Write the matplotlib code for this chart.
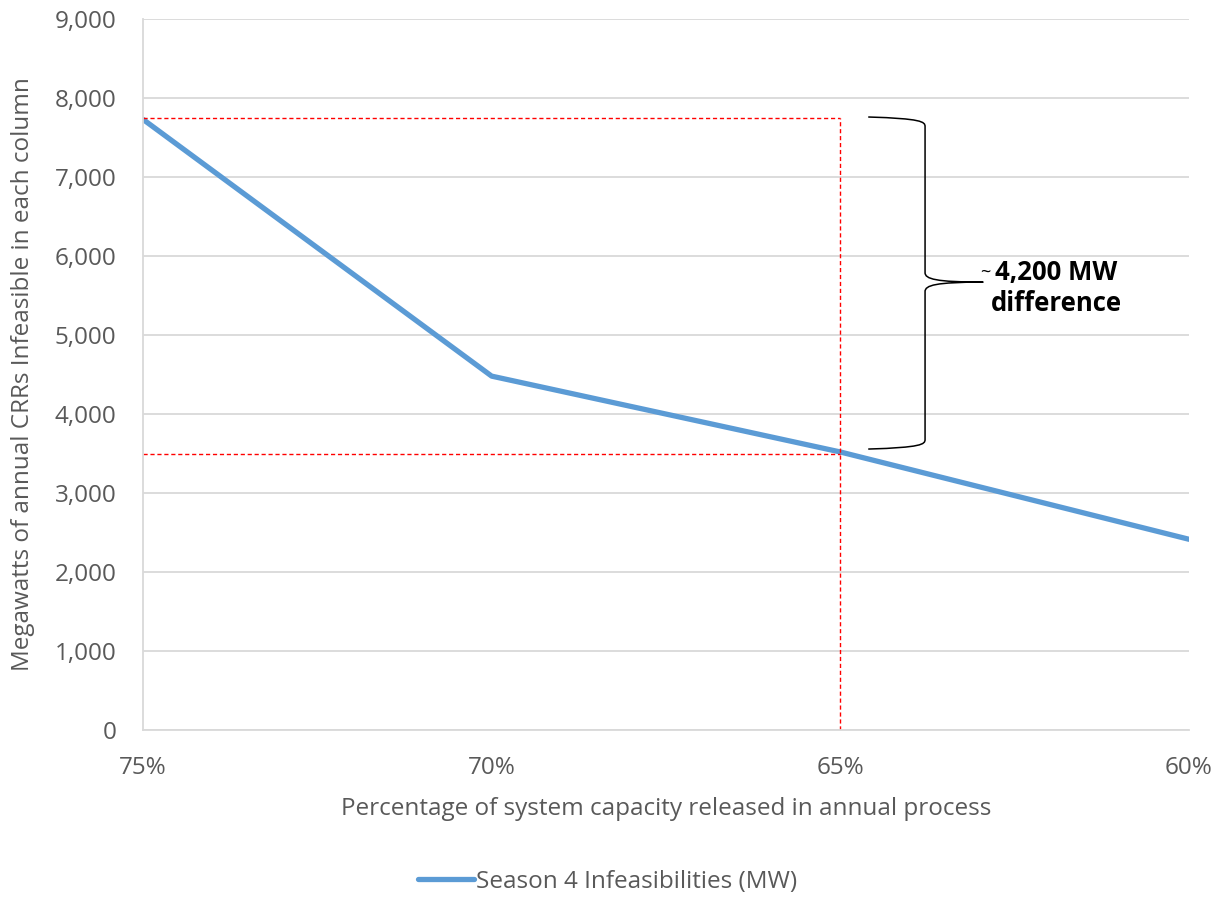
import matplotlib.pyplot as plt
from matplotlib.path import Path
from matplotlib.patches import PathPatch

plt.rcParams['font.family'] = ['Open Sans', 'DejaVu Sans']

# released capacity vs MW of annual CRRs infeasible
pct_labels = ["75%", "70%", "65%", "60%"]
infeasible_mw = [7730, 4480, 3520, 2415]

ref_high = 7750
ref_low = 3500
y_ticks = list(range(0, 10000, 1000))

grey = "#595959"
grid = "#D9D9D9"
blue = "#5B9BD5"


def plot():
    fig = plt.figure(figsize=(12.15, 8.98), dpi=100)
    ax = fig.add_axes([0.1177, 0.187, 0.8609, 0.7918])
    x = list(range(len(pct_labels)))

    ax.set_xlim(0, len(pct_labels) - 1)
    ax.set_ylim(0, 9000)
    ax.set_yticks(y_ticks)
    ax.set_yticklabels([f"{v:,}" for v in y_ticks])
    ax.set_xticks(x)
    ax.set_xticklabels(pct_labels)
    ax.tick_params(length=0, labelsize=17.5, colors=grey)
    ax.tick_params(axis='y', pad=19)
    ax.tick_params(axis='x', pad=19)
    ax.grid(axis='y', color=grid, linewidth=1.3)
    ax.set_axisbelow(True)
    for s in ['top', 'right']:
        ax.spines[s].set_visible(False)
    for s in ['left', 'bottom']:
        ax.spines[s].set_color(grid)
        ax.spines[s].set_linewidth(1.3)

    ax.set_xlabel("Percentage of system capacity released in annual process",
                  fontsize=17.5, color=grey, labelpad=12)
    ax.set_ylabel("Megawatts of annual CRRs Infeasible in each column",
                  fontsize=17.5, color=grey, labelpad=14)

    line, = ax.plot(x, infeasible_mw, color=blue, linewidth=3.8,
                    solid_capstyle='round', label="Season 4 Infeasibilities (MW)")

    # reference lines at 65%
    dash = dict(color='red', linewidth=1, linestyle=(0, (3, 2)))
    ax.plot([0, 2], [ref_high, ref_high], **dash)
    ax.plot([0, 2], [ref_low, ref_low], **dash)
    ax.plot([2, 2], [0, ref_high], **dash)

    # curly brace spanning the difference
    x0, x1, xt = 2.08, 2.243, 2.41
    top, bot, mid = 7760, 3557, 5670
    verts = [(x0, top), (x1 - 0.01, top - 20), (x1, top - 60), (x1, top - 120),
             (x1, mid + 120),
             (x1, mid + 40), (x1 + 0.03, mid), (xt, mid),
             (x1 + 0.03, mid), (x1, mid - 40), (x1, mid - 120),
             (x1, bot + 120),
             (x1, bot + 60), (x1 - 0.01, bot + 20), (x0, bot)]
    codes = [Path.MOVETO, Path.CURVE4, Path.CURVE4, Path.CURVE4,
             Path.LINETO,
             Path.CURVE4, Path.CURVE4, Path.CURVE4,
             Path.CURVE4, Path.CURVE4, Path.CURVE4,
             Path.LINETO,
             Path.CURVE4, Path.CURVE4, Path.CURVE4]
    ax.add_patch(PathPatch(Path(verts, codes), facecolor='none',
                           edgecolor='black', linewidth=1.1, clip_on=False))

    ax.text(2.400, 5790, "~", fontsize=13, color='black',
            ha='left', va='center')
    ax.text(2.62, 5600, "4,200 MW\ndifference", fontsize=18.5, fontweight='bold',
            color='black', ha='center', va='center', linespacing=1.2)

    fig.legend(handles=[line], loc='center', bbox_to_anchor=(0.5, 1 - 882 / 898),
               frameon=False, fontsize=17.5, labelcolor=grey, handlelength=2.3,
               handletextpad=0.1)
    return fig


fig = plot()
fig.savefig("out.png", dpi=100)
